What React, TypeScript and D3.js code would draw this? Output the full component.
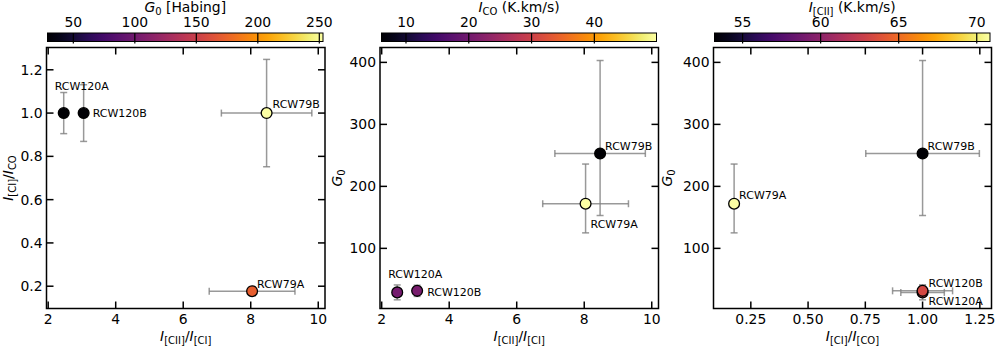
import React from "react";
import * as d3 from "d3";

// ---------- data ----------
const sources = ["RCW79A", "RCW79B", "RCW120A", "RCW120B"];
const ratioCiiCi = [8.04, 8.47, 2.46, 3.05];
const ratioCiiCiErr = [1.27, 1.34, 0, 0];
const ratioCiCo = [0.177, 1.0, 1.0, 1.0];
const ratioCiCoErr = [0.02, 0.248, 0.095, 0.131];
const g0 = [172, 253, 29, 31.5];
const g0ErrLow = [47, 100, 12, 9];
const g0ErrHigh = [64, 150, 12, 9];
const intensityCo = [49.9, 6.1, 20.3, 20.8];
const intensityCii = [70.85, 53.2, 62.8, 63.3];

// ---------- tick labels ----------
const g0CbarTicks = [50, 100, 150, 200, 250];
const coCbarTicks = [10, 20, 30, 40];
const ciiCbarTicks = [55, 60, 65, 70];
const ratioCiiCiTicks = [2, 4, 6, 8, 10];
const ratioCiCoYTicks = [0.2, 0.4, 0.6, 0.8, 1.0, 1.2];
const g0AxisTicks = [100, 200, 300, 400];
const ratioCiCoXTicks = [0.25, 0.5, 0.75, 1.0, 1.25];

// ---------- layout (not data) ----------
const FONT = "DejaVu Sans, sans-serif";
const TOP = 47.5;
const BOTTOM = 308.5;
const CB_TOP = 33;
const CB_BOTTOM = 41.5;
const ERR_COLOR = "#7f7f7f";

type Sub = { t: string; sub?: boolean; it?: boolean };

const panels = [
  {
    left: 46.5, right: 325, cbLeft: 47.5, cbRight: 323,
    xs: ratioCiiCi, xErrLo: ratioCiiCiErr, xErrHi: ratioCiiCiErr,
    ys: ratioCiCo, yErrLo: ratioCiCoErr, yErrHi: ratioCiCoErr,
    xDomain: [1.95, 10.2], yDomain: [0.097, 1.303],
    xTicks: ratioCiiCiTicks, yTicks: ratioCiCoYTicks,
    xFmt: d3.format("d"), yFmt: d3.format(".1f"),
    cVals: g0, cTicks: g0CbarTicks,
    cLabel: [{ t: "G", it: true }, { t: "0", sub: true }, { t: " [Habing]" }] as Sub[],
    xLabel: [{ t: "I", it: true }, { t: "[CII]", sub: true }, { t: "/" }, { t: "I", it: true }, { t: "[CI]", sub: true }] as Sub[],
    yLabel: [{ t: "I", it: true }, { t: "[CI]", sub: true }, { t: "/" }, { t: "I", it: true }, { t: "CO", sub: true }] as Sub[],
    yLabelX: 13,
    offsets: [[5, -3], [6, -5], [-9, -23], [9, 4]],
  },
  {
    left: 380, right: 658.5, cbLeft: 381.5, cbRight: 656.5,
    xs: ratioCiiCi, xErrLo: ratioCiiCiErr, xErrHi: ratioCiiCiErr,
    ys: g0, yErrLo: g0ErrLow, yErrHi: g0ErrHigh,
    xDomain: [1.95, 10.2], yDomain: [3, 424],
    xTicks: ratioCiiCiTicks, yTicks: g0AxisTicks,
    xFmt: d3.format("d"), yFmt: d3.format("d"),
    cVals: intensityCo, cTicks: coCbarTicks,
    cLabel: [{ t: "I", it: true }, { t: "CO", sub: true }, { t: " (K.km/s)" }] as Sub[],
    xLabel: [{ t: "I", it: true }, { t: "[CII]", sub: true }, { t: "/" }, { t: "I", it: true }, { t: "[CI]", sub: true }] as Sub[],
    yLabel: [{ t: "G", it: true }, { t: "0", sub: true }] as Sub[],
    yLabelX: 342,
    offsets: [[5, 24], [5, -4], [-9, -14], [10, 5]],
  },
  {
    left: 713.5, right: 991.5, cbLeft: 714.5, cbRight: 990,
    xs: ratioCiCo, xErrLo: ratioCiCoErr, xErrHi: ratioCiCoErr,
    ys: g0, yErrLo: g0ErrLow, yErrHi: g0ErrHigh,
    xDomain: [0.087, 1.301], yDomain: [3, 424],
    xTicks: ratioCiCoXTicks, yTicks: g0AxisTicks,
    xFmt: d3.format(".2f"), yFmt: d3.format("d"),
    cVals: intensityCii, cTicks: ciiCbarTicks,
    cLabel: [{ t: "I", it: true }, { t: "[CII]", sub: true }, { t: " (K.km/s)" }] as Sub[],
    xLabel: [{ t: "I", it: true }, { t: "[CI]", sub: true }, { t: "/" }, { t: "I", it: true }, { t: "[CO]", sub: true }] as Sub[],
    yLabel: [{ t: "G", it: true }, { t: "0", sub: true }] as Sub[],
    yLabelX: 672,
    offsets: [[5, -5], [5, -4], [6, 13], [6, -4]],
  },
];

function RichText({ parts, size }: { parts: Sub[]; size: number }) {
  const out: React.ReactNode[] = [];
  let shifted = false;
  parts.forEach((p, i) => {
    let dy = 0;
    if (p.sub && !shifted) { dy = size * 0.22; shifted = true; }
    else if (!p.sub && shifted) { dy = -size * 0.22; shifted = false; }
    out.push(
      <tspan key={i} dy={dy || undefined} fontStyle={p.it ? "italic" : undefined}
        fontSize={p.sub ? size * 0.72 : size}>{p.t}</tspan>
    );
  });
  return <>{out}</>;
}

function Panel({ p, idx }: { p: typeof panels[number]; idx: number }) {
  const x = d3.scaleLinear().domain(p.xDomain).range([p.left, p.right]);
  const y = d3.scaleLinear().domain(p.yDomain).range([BOTTOM, TOP]);
  const ext = d3.extent(p.cVals) as [number, number];
  const cnorm = d3.scaleLinear().domain(ext).range([0, 1]);
  const color = (v: number) => d3.interpolateInferno(cnorm(v));
  const cbX = d3.scaleLinear().domain(ext).range([p.cbLeft, p.cbRight]);
  const gradId = `grad${idx}`;
  const stops = d3.range(0, 1.0001, 0.05);
  const TL = 7;
  const cap = 3.5;
  const midY = (TOP + BOTTOM) / 2;
  const midX = (p.left + p.right) / 2;

  return (
    <g>
      <defs>
        <linearGradient id={gradId} x1="0" x2="1" y1="0" y2="0">
          {stops.map((s, i) => (
            <stop key={i} offset={s} stopColor={d3.interpolateInferno(s)} />
          ))}
        </linearGradient>
      </defs>
      {/* colorbar */}
      <rect x={p.cbLeft} y={CB_TOP} width={p.cbRight - p.cbLeft} height={CB_BOTTOM - CB_TOP}
        fill={`url(#${gradId})`} stroke="#000" strokeWidth={1} />
      {p.cTicks.map((t) => (
        <g key={t}>
          <line x1={cbX(t)} x2={cbX(t)} y1={CB_TOP} y2={CB_BOTTOM + 2} stroke="#000" strokeWidth={1.2} />
          <text x={cbX(t)} y={26.5} textAnchor="middle" fontSize={13.9} fontFamily={FONT} fill="#000">{t}</text>
        </g>
      ))}
      <text x={(p.cbLeft + p.cbRight) / 2} y={11.5} textAnchor="middle" fontFamily={FONT} fontSize={13.9} fill="#000">
        <RichText parts={p.cLabel} size={13.9} />
      </text>

      {/* error bars */}
      {sources.map((s, i) => {
        const cx = x(p.xs[i]);
        const cy = y(p.ys[i]);
        const els: React.ReactNode[] = [];
        if (p.xErrLo[i] > 0) {
          const x0 = x(p.xs[i] - p.xErrLo[i]);
          const x1 = x(p.xs[i] + p.xErrHi[i]);
          els.push(<line key="h" x1={x0} x2={x1} y1={cy} y2={cy} />);
          els.push(<line key="hc0" x1={x0} x2={x0} y1={cy - cap} y2={cy + cap} />);
          els.push(<line key="hc1" x1={x1} x2={x1} y1={cy - cap} y2={cy + cap} />);
        }
        if (p.yErrLo[i] > 0) {
          const y0 = y(p.ys[i] - p.yErrLo[i]);
          const y1 = y(p.ys[i] + p.yErrHi[i]);
          els.push(<line key="v" x1={cx} x2={cx} y1={y0} y2={y1} />);
          els.push(<line key="vc0" x1={cx - cap} x2={cx + cap} y1={y0} y2={y0} />);
          els.push(<line key="vc1" x1={cx - cap} x2={cx + cap} y1={y1} y2={y1} />);
        }
        return (
          <g key={s} stroke={ERR_COLOR} strokeWidth={1.5} strokeOpacity={0.8}>{els}</g>
        );
      })}

      {/* markers */}
      {sources.map((s, i) => (
        <circle key={s} cx={x(p.xs[i])} cy={y(p.ys[i])} r={5.4}
          fill={color(p.cVals[i])} stroke="#000" strokeWidth={1.3} />
      ))}

      {/* annotations */}
      {sources.map((s, i) => (
        <text key={s} x={x(p.xs[i]) + p.offsets[i][0]} y={y(p.ys[i]) + p.offsets[i][1]}
          fontFamily={FONT} fontSize={11} fill="#000">{s}</text>
      ))}

      {/* spines */}
      <rect x={p.left} y={TOP} width={p.right - p.left} height={BOTTOM - TOP}
        fill="none" stroke="#000" strokeWidth={1.5} />

      {/* x ticks (bottom & top, inward) */}
      {p.xTicks.map((t) => (
        <g key={t} stroke="#000" strokeWidth={1.5}>
          <line x1={x(t)} x2={x(t)} y1={BOTTOM} y2={BOTTOM - TL} />
          <line x1={x(t)} x2={x(t)} y1={TOP} y2={TOP + TL} />
        </g>
      ))}
      {p.xTicks.map((t) => (
        <text key={"l" + t} x={x(t)} y={BOTTOM + 15} textAnchor="middle" fontFamily={FONT}
          fontSize={13.9} fill="#000">{p.xFmt(t)}</text>
      ))}
      {/* y ticks (left & right, inward) */}
      {p.yTicks.map((t) => (
        <g key={t} stroke="#000" strokeWidth={1.5}>
          <line x1={p.left} x2={p.left + TL} y1={y(t)} y2={y(t)} />
          <line x1={p.right} x2={p.right - TL} y1={y(t)} y2={y(t)} />
        </g>
      ))}
      {p.yTicks.map((t) => (
        <text key={"l" + t} x={p.left - 4} y={y(t) + 5} textAnchor="end" fontFamily={FONT}
          fontSize={13.9} fill="#000">{p.yFmt(t)}</text>
      ))}

      {/* axis labels */}
      <text x={midX} y={341} textAnchor="middle" fontFamily={FONT} fontSize={13.9} fill="#000">
        <RichText parts={p.xLabel} size={13.9} />
      </text>
      <text transform={`translate(${p.yLabelX},${midY}) rotate(-90)`} textAnchor="middle"
        fontFamily={FONT} fontSize={13.9} fill="#000">
        <RichText parts={p.yLabel} size={13.9} />
      </text>
    </g>
  );
}

export default function App() {
  return (
    <svg width={996} height={348} viewBox="0 0 996 348"
      style={{ position: "absolute", left: 0, top: 0, background: "#fff" }}>
      <rect x={0} y={0} width={996} height={348} fill="#fff" />
      {panels.map((p, i) => (
        <Panel key={i} p={p} idx={i} />
      ))}
    </svg>
  );
}
